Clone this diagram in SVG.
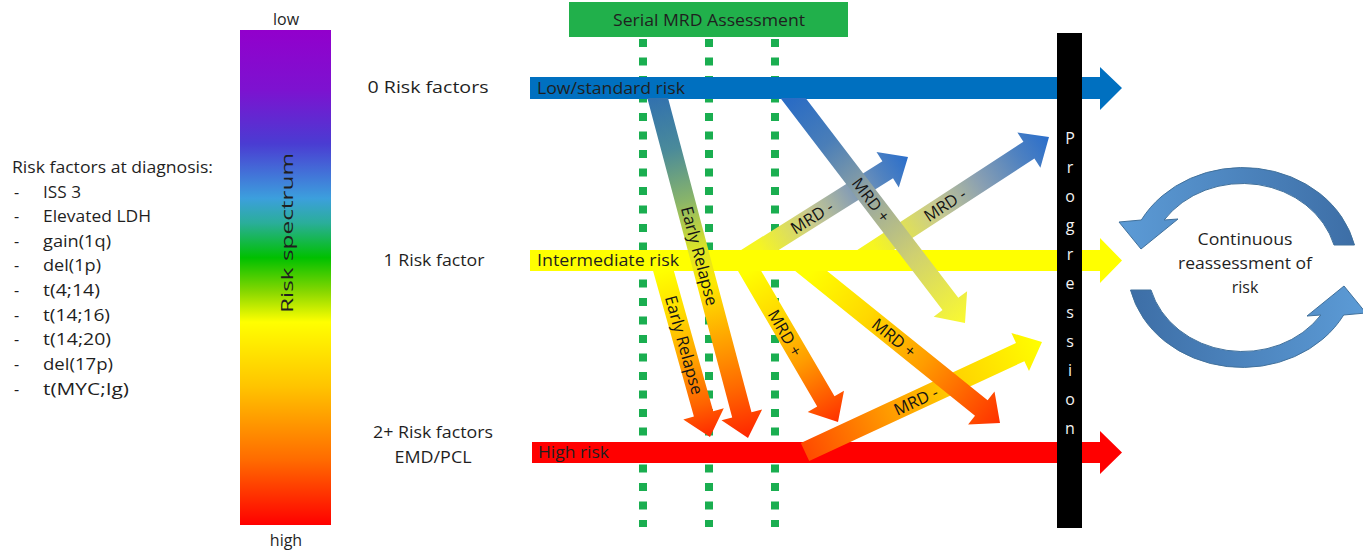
<svg xmlns="http://www.w3.org/2000/svg" width="1363" height="550" viewBox="0 0 1363 550">
<style>
.t{font-family:"Open Sans","Liberation Sans",sans-serif;font-size:16px;fill:#1f1f1f}
.c{text-anchor:middle}
.lab{font-family:"Open Sans","Liberation Sans",sans-serif;font-size:16.5px;fill:#141414;text-anchor:middle}
.prog{font-family:"Open Sans","Liberation Sans",sans-serif;font-size:16px;fill:#f2f2f2;text-anchor:middle}
.dots{stroke:#1aae50;stroke-width:8;stroke-dasharray:8 10.5;fill:none}
.cyc{stroke:#41719c;stroke-width:1}
</style>
<defs>
<linearGradient id="spec" x1="0" y1="0" x2="0" y2="1">
<stop offset="0" stop-color="#9200cc"/>
<stop offset="0.12" stop-color="#7d12d0"/>
<stop offset="0.23" stop-color="#4a3cd2"/>
<stop offset="0.34" stop-color="#3c9fdd"/>
<stop offset="0.39" stop-color="#2aae9a"/>
<stop offset="0.46" stop-color="#00c000"/>
<stop offset="0.53" stop-color="#8ad800"/>
<stop offset="0.59" stop-color="#ffff00"/>
<stop offset="0.72" stop-color="#ffc400"/>
<stop offset="0.87" stop-color="#ff6a00"/>
<stop offset="1" stop-color="#ff0000"/>
</linearGradient>
<linearGradient id="gA" gradientUnits="userSpaceOnUse" x1="657.7" y1="98" x2="748" y2="438">
<stop offset="0" stop-color="#3272ae"/>
<stop offset="0.15" stop-color="#4a8a9a"/>
<stop offset="0.3" stop-color="#88b46a"/>
<stop offset="0.45" stop-color="#dfe625"/>
<stop offset="0.55" stop-color="#fde800"/>
<stop offset="0.7" stop-color="#ffa800"/>
<stop offset="0.85" stop-color="#ff6a00"/>
<stop offset="1" stop-color="#ff2400"/>
</linearGradient>
<linearGradient id="gB" gradientUnits="userSpaceOnUse" x1="663.5" y1="271" x2="710" y2="437">
<stop offset="0" stop-color="#ffff00"/>
<stop offset="0.25" stop-color="#ffdc00"/>
<stop offset="0.55" stop-color="#ffa000"/>
<stop offset="0.8" stop-color="#ff6400"/>
<stop offset="1" stop-color="#ff2800"/>
</linearGradient>
<linearGradient id="gE" gradientUnits="userSpaceOnUse" x1="749.6" y1="271" x2="838" y2="422">
<stop offset="0" stop-color="#ffff00"/>
<stop offset="0.3" stop-color="#ffd800"/>
<stop offset="0.6" stop-color="#ff9c00"/>
<stop offset="1" stop-color="#ff3000"/>
</linearGradient>
<linearGradient id="gF" gradientUnits="userSpaceOnUse" x1="811.2" y1="271" x2="1000" y2="423">
<stop offset="0" stop-color="#ffff00"/>
<stop offset="0.3" stop-color="#ffd800"/>
<stop offset="0.6" stop-color="#ff9c00"/>
<stop offset="1" stop-color="#ff3000"/>
</linearGradient>
<linearGradient id="gC" gradientUnits="userSpaceOnUse" x1="760" y1="250" x2="908" y2="157">
<stop offset="0" stop-color="#f6f620"/>
<stop offset="0.35" stop-color="#c8ca90"/>
<stop offset="0.6" stop-color="#8aa0b2"/>
<stop offset="0.82" stop-color="#5082c0"/>
<stop offset="1" stop-color="#2a6ecb"/>
</linearGradient>
<linearGradient id="gD" gradientUnits="userSpaceOnUse" x1="875.6" y1="250" x2="1049" y2="137">
<stop offset="0" stop-color="#f6f620"/>
<stop offset="0.35" stop-color="#c8ca90"/>
<stop offset="0.6" stop-color="#8aa0b2"/>
<stop offset="0.82" stop-color="#5082c0"/>
<stop offset="1" stop-color="#2a6ecb"/>
</linearGradient>
<linearGradient id="gG" gradientUnits="userSpaceOnUse" x1="793" y1="98" x2="965" y2="323">
<stop offset="0" stop-color="#2a6cc4"/>
<stop offset="0.2" stop-color="#4a7eb8"/>
<stop offset="0.45" stop-color="#9aa8a0"/>
<stop offset="0.7" stop-color="#cfd070"/>
<stop offset="1" stop-color="#fafa30"/>
</linearGradient>
<linearGradient id="gH" gradientUnits="userSpaceOnUse" x1="805" y1="452" x2="1042" y2="342">
<stop offset="0" stop-color="#ff4a00"/>
<stop offset="0.35" stop-color="#ff9a00"/>
<stop offset="0.65" stop-color="#ffd400"/>
<stop offset="1" stop-color="#ffff00"/>
</linearGradient>
<linearGradient id="gCyc" gradientUnits="userSpaceOnUse" x1="1355" y1="0" x2="1120" y2="0">
<stop offset="0" stop-color="#3d6ea6"/>
<stop offset="1" stop-color="#5c9bd6"/>
</linearGradient>
</defs>

<g id="risk-factors-list">
<text class="t" x="12" y="173" textLength="201" lengthAdjust="spacingAndGlyphs">Risk factors at diagnosis:</text>
<text class="t" x="14" y="197.5">-</text><text class="t" x="43" y="197.5" textLength="38" lengthAdjust="spacingAndGlyphs">ISS 3</text>
<text class="t" x="14" y="222">-</text><text class="t" x="43" y="222" textLength="108" lengthAdjust="spacingAndGlyphs">Elevated LDH</text>
<text class="t" x="14" y="246.5">-</text><text class="t" x="43" y="246.5" textLength="68" lengthAdjust="spacingAndGlyphs">gain(1q)</text>
<text class="t" x="14" y="271">-</text><text class="t" x="43" y="271" textLength="58" lengthAdjust="spacingAndGlyphs">del(1p)</text>
<text class="t" x="14" y="296">-</text><text class="t" x="43" y="296" textLength="57" lengthAdjust="spacingAndGlyphs">t(4;14)</text>
<text class="t" x="14" y="320.5">-</text><text class="t" x="43" y="320.5" textLength="67" lengthAdjust="spacingAndGlyphs">t(14;16)</text>
<text class="t" x="14" y="345">-</text><text class="t" x="43" y="345" textLength="68" lengthAdjust="spacingAndGlyphs">t(14;20)</text>
<text class="t" x="14" y="370">-</text><text class="t" x="43" y="370" textLength="70" lengthAdjust="spacingAndGlyphs">del(17p)</text>
<text class="t" x="14" y="394.5">-</text><text class="t" x="43" y="394.5" textLength="86" lengthAdjust="spacingAndGlyphs">t(MYC;Ig)</text>
</g>

<g id="risk-spectrum">
<text class="t c" x="286" y="25" font-size="17">low</text>
<rect x="240" y="30" width="91" height="495" fill="url(#spec)"/>
<text class="t c" transform="translate(287,233) rotate(-90)" y="6" font-size="17" textLength="160" lengthAdjust="spacingAndGlyphs" fill="#1e3a1e">Risk spectrum</text>
<text class="t c" x="286" y="546" font-size="17">high</text>
</g>

<g id="serial-mrd">
<rect x="569" y="2" width="279" height="35" fill="#21b04b"/>
<text class="t c" x="709" y="26" textLength="192" lengthAdjust="spacingAndGlyphs" fill="#173a1f">Serial MRD Assessment</text>
<path class="dots" d="M643 39V527M709 39V527M775 39V527"/>
</g>

<g id="row-labels">
<text class="t c" x="428" y="93" textLength="121" lengthAdjust="spacingAndGlyphs">0 Risk factors</text>
<text class="t c" x="434" y="266" textLength="101" lengthAdjust="spacingAndGlyphs">1 Risk factor</text>
<text class="t c" x="433" y="438" textLength="120" lengthAdjust="spacingAndGlyphs">2+ Risk factors</text>
<text class="t c" x="433" y="463" textLength="77" lengthAdjust="spacingAndGlyphs">EMD/PCL</text>
</g>

<g id="high-risk">
<path d="M532 442H1100V431L1122 452.5L1100 474V463H532Z" fill="#ff0000"/>
<text class="t" x="538" y="458" textLength="71" lengthAdjust="spacingAndGlyphs" fill="#5c0505">High risk</text>
</g>
<g id="intermediate-risk">
<path d="M530 250H1100V238L1122 260.5L1100 283V271H530Z" fill="#ffff00"/>
<text class="t" x="537" y="266" textLength="142" lengthAdjust="spacingAndGlyphs" fill="#2b2b10">Intermediate risk</text>
</g>
<g id="low-standard-risk">
<path d="M530 77H1100V67L1122 88L1100 110V99H530Z" fill="#0070c0"/>
<text class="t" x="537" y="94" textLength="148" lengthAdjust="spacingAndGlyphs" fill="#0f2340">Low/standard risk</text>
</g>

<g id="connectors">
<g id="mrd-neg-high">
<path d="M809.2 461.1L1024.4 361.2L1029 371.1L1042 342L1011.4 333L1016 343L800.8 442.9Z" fill="url(#gH)"/>
<text class="lab" transform="translate(916,401) rotate(-24.9)" dy="0.35em">MRD -</text>
</g>
<g id="mrd-pos-int-far">
<path d="M795.2 271L975 415.8L968.1 424.4L1000 423L994.5 391.6L987.6 400.2L827.1 271Z" fill="url(#gF)"/>
<text class="lab" transform="translate(894,338) rotate(38.8)" dy="0.35em">MRD +</text>
</g>
<g id="mrd-pos-int-near">
<path d="M738 271L817.2 406.4L807.7 411.9L838 422L844 390.7L834.5 396.2L761.2 271Z" fill="url(#gE)"/>
<text class="lab" transform="translate(785,333) rotate(59.7)" dy="0.35em">MRD +</text>
</g>
<g id="early-relapse-int">
<path d="M653.1 271L693.9 416.6L683.3 419.6L710 437L723.8 408.2L713.2 411.2L673.9 271Z" fill="url(#gB)"/>
<text class="lab" transform="translate(684,345) rotate(74.4)" dy="0.35em">Early Relapse</text>
</g>
<g id="mrd-neg-int-near">
<path d="M778.7 250L893 178.2L898.8 187.5L908 157L876.5 152L882.4 161.3L741.1 250Z" fill="url(#gC)"/>
<text class="lab" transform="translate(812,217.5) rotate(-32.1)" dy="0.35em">MRD -</text>
</g>
<g id="mrd-neg-int-far">
<path d="M893.9 250L1034.4 158.5L1040.4 167.7L1049 137L1017.4 132.5L1023.4 141.7L857.3 250Z" fill="url(#gD)"/>
<text class="lab" transform="translate(945,205) rotate(-33.1)" dy="0.35em">MRD -</text>
</g>
<g id="early-relapse-low">
<path d="M647.3 98L732.2 417.4L721.5 420.2L748 438L762.1 409.4L751.5 412.2L668 98Z" fill="url(#gA)"/>
<text class="lab" transform="translate(699.5,256) rotate(75.1)" dy="0.35em">Early Relapse</text>
</g>
<g id="mrd-pos-low">
<path d="M780.4 98L942.5 310L933.7 316.7L965 323L967.1 291.2L958.3 297.8L805.6 98Z" fill="url(#gG)"/>
<text class="lab" transform="translate(871,200) rotate(52.6)" dy="0.35em">MRD +</text>
</g>
</g>

<g id="progression">
<rect x="1057" y="33" width="25" height="495" fill="#000000"/>
<text class="prog">
<tspan x="1070" y="144">P</tspan><tspan x="1070" y="173">r</tspan><tspan x="1070" y="202">o</tspan><tspan x="1070" y="231">g</tspan><tspan x="1070" y="260">r</tspan><tspan x="1070" y="289">e</tspan><tspan x="1070" y="318">s</tspan><tspan x="1070" y="347">s</tspan><tspan x="1070" y="376">i</tspan><tspan x="1070" y="405">o</tspan><tspan x="1070" y="434">n</tspan>
</text>
</g>

<g id="continuous-reassessment">
<path class="cyc" fill="url(#gCyc)" d="M1334 245L1354.5 245A115 100 0 0 0 1141.3 220L1119 222L1141 249L1178 219L1164.1 220A95 84 0 0 1 1334 245Z"/>
<path class="cyc" fill="url(#gCyc)" transform="rotate(180 1242.5 267.5)" d="M1334 245L1354.5 245A115 100 0 0 0 1141.3 220L1119 222L1141 249L1178 219L1164.1 220A95 84 0 0 1 1334 245Z"/>
<text class="t c" x="1245" y="245" font-size="17" fill="#2a2a2a" textLength="95" lengthAdjust="spacingAndGlyphs">Continuous</text>
<text class="t c" x="1245" y="269" font-size="17" fill="#2a2a2a" textLength="134" lengthAdjust="spacingAndGlyphs">reassessment of</text>
<text class="t c" x="1245" y="293" font-size="17" fill="#2a2a2a">risk</text>
</g>
</svg>
